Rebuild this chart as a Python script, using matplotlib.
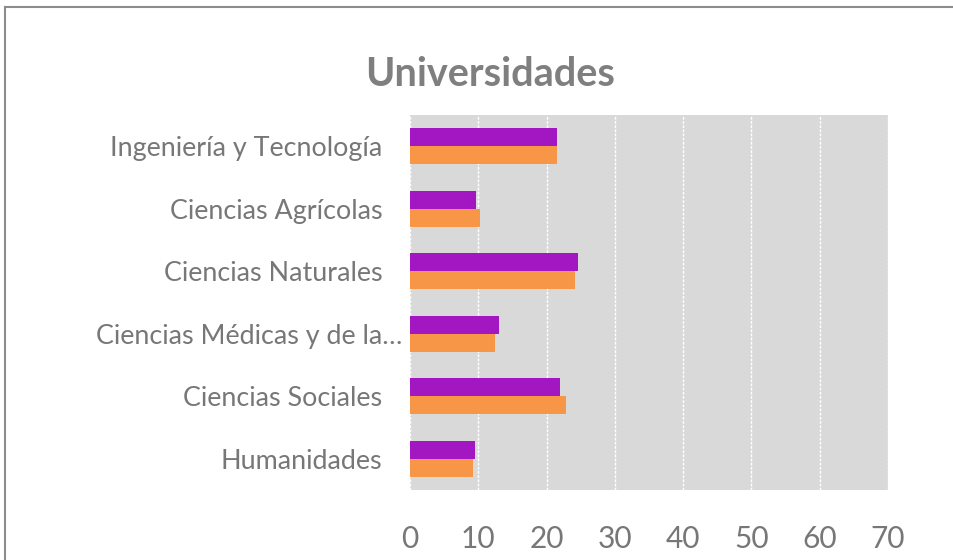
import matplotlib.pyplot as plt
import matplotlib.transforms as mtransforms
import numpy as np

categorias = ["Humanidades", "Ciencias Sociales", "Ciencias Médicas y de la…",
              "Ciencias Naturales", "Ciencias Agrícolas", "Ingeniería y Tecnología"]
serie_morada = [9.5, 21.9, 13.0, 24.6, 9.7, 21.5]
serie_naranja = [9.2, 22.8, 12.4, 24.1, 10.2, 21.5]
ticks_x = [0, 10, 20, 30, 40, 50, 60, 70]

plt.rcParams['font.family'] = ['Lato', 'DejaVu Sans']

fig = plt.figure(figsize=(9.54, 5.6), dpi=100)
ax = fig.add_axes([410/954, 1-490/560, 478/954, 375/560])

y = np.arange(len(categorias))
h = 0.288
ax.barh(y + h/2, serie_morada, height=h, color='#A217C2', zorder=3)
ax.barh(y - h/2, serie_naranja, height=h, color='#F79646', zorder=3)

ax.set_facecolor('#D9D9D9')
ax.set_xlim(0, 70)
ax.set_ylim(-0.5, len(categorias) - 0.5)
ax.set_xticks(ticks_x)
ax.set_yticks(y)
ax.set_yticklabels(categorias)
ax.grid(axis='x', color='white', linewidth=1, linestyle=(0, (2, 1)), zorder=0)
for s in ax.spines.values():
    s.set_visible(False)
ax.tick_params(axis='both', length=0, colors='#777777')
ax.tick_params(axis='y', labelsize=19.4, pad=20)
ax.tick_params(axis='x', labelsize=21.5, pad=25)

# la etiqueta recortada sobresale un poco a la derecha
lbl = ax.get_yticklabels()[2]
lbl.set_transform(lbl.get_transform() + mtransforms.ScaledTranslation(20/100, 0, fig.dpi_scale_trans))

fig.text(490/954, 1-75/560, "Universidades", ha='center', va='center',
         fontsize=28.5, fontweight='bold', color='#7F7F7F')

# marco del gráfico
fig.add_artist(plt.Line2D([5.5/954, 5.5/954], [0, 1-7/560], color='#8C8C8C', linewidth=1.5))
fig.add_artist(plt.Line2D([5.5/954, 1], [1-7/560, 1-7/560], color='#8C8C8C', linewidth=1.5))

fig.savefig("out.png", dpi=100)
